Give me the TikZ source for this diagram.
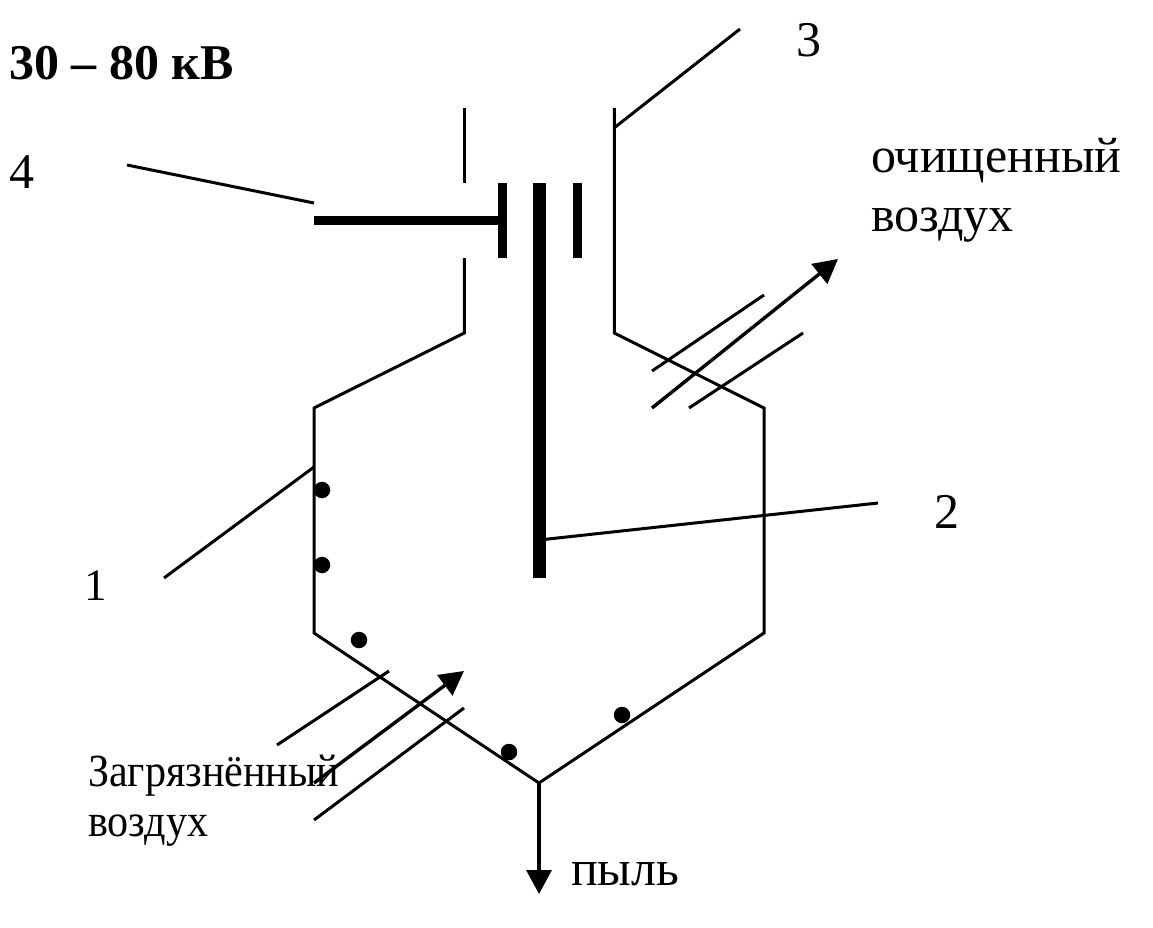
\documentclass[tikz,border=0pt]{standalone}
\usepackage{fontspec}
\setmainfont{Liberation Serif}
\usetikzlibrary{arrows.meta}
\newcommand{\narrowtext}[1]{\scalebox{0.915}[1]{#1}}
\tikzset{
  wall/.style={line width=3pt},
  plate/.style={line width=9pt},
  flow/.style={line width=3.4pt,-{Triangle[length=24pt,width=25pt]}},
  dust/.style={circle,fill=black,minimum size=16.5pt,inner sep=0pt},
  lbl/.style={inner sep=0pt,anchor=base west,font=\fontsize{50}{56}\selectfont,align=left},
  small/.style={lbl,font=\fontsize{46}{50}\selectfont},
}
\begin{document}
\begin{tikzpicture}[x=1pt,y=-1pt]
\useasboundingbox (0,0) rectangle (1153,928);
% housing
\coordinate (TL) at (464.3,333);
\coordinate (TR) at (614.3,333);
\coordinate (SL) at (314,408);
\coordinate (SR) at (764,408);
\coordinate (BL) at (314,633);
\coordinate (BR) at (764,633);
\coordinate (BM) at (539,783);
\coordinate (TopR) at (614.3,108);
\draw[wall] (464.3,258) -- (TL) -- (SL) -- (BL) -- (BM) -- (BR) -- (SR) -- (TR) -- (TopR);
\draw[wall] (464.3,108) -- (464.3,183);
% electrodes
\draw[line width=13pt] (539.5,183) -- (539.5,578);
\draw[plate] (502.5,183) -- (502.5,258);
\draw[plate] (577.5,183) -- (577.5,258);
\draw[plate] (314,220.5) -- (502.5,220.5);
% leader lines
\draw[wall] (614,128) -- (740,29);
\draw[wall] (127,165) -- (314,203);
\draw[wall] (164,578) -- (314,467);
\draw[wall] (539,540) -- (878,503);
% dust
\foreach \px/\py in {322/490,322/565,359/640,509/752,622/715}
  \node[dust] at (\px,\py) {};
% clean air
\draw[flow] (652,408) -- (838,259);
\draw[wall] (652,371) -- (764,295);
\draw[wall] (689,408) -- (803,333);
% dirty air
\draw[flow] (314,783) -- (464,671);
\draw[wall] (277,745) -- (389,671);
\draw[wall] (314,820) -- (464,708);
% dust out
\draw[flow] (539,783) -- (539,894);
% labels
\node[lbl,font=\fontsize{50}{56}\selectfont\bfseries] (volt) at (9,80) {30 – 80 кВ};
\node[lbl] (n4) at (9,189) {4};
\node[lbl] (n3) at (796,57) {3};
\node[lbl] (n2) at (934,528) {2};
\node[lbl,font=\fontsize{45}{50}\selectfont] (n1) at (84,600) {1};
\node[lbl] (clean1) at (871,173) {очищенный};
\node[lbl] (clean2) at (871,231) {воздух};
\node[small] (dirty1) at (88,786) {\narrowtext{Загрязнённый}};
\node[small] (dirty2) at (88,836) {\narrowtext{воздух}};
\node[lbl] (pyl) at (571,885) {пыль};
\end{tikzpicture}
\end{document}
